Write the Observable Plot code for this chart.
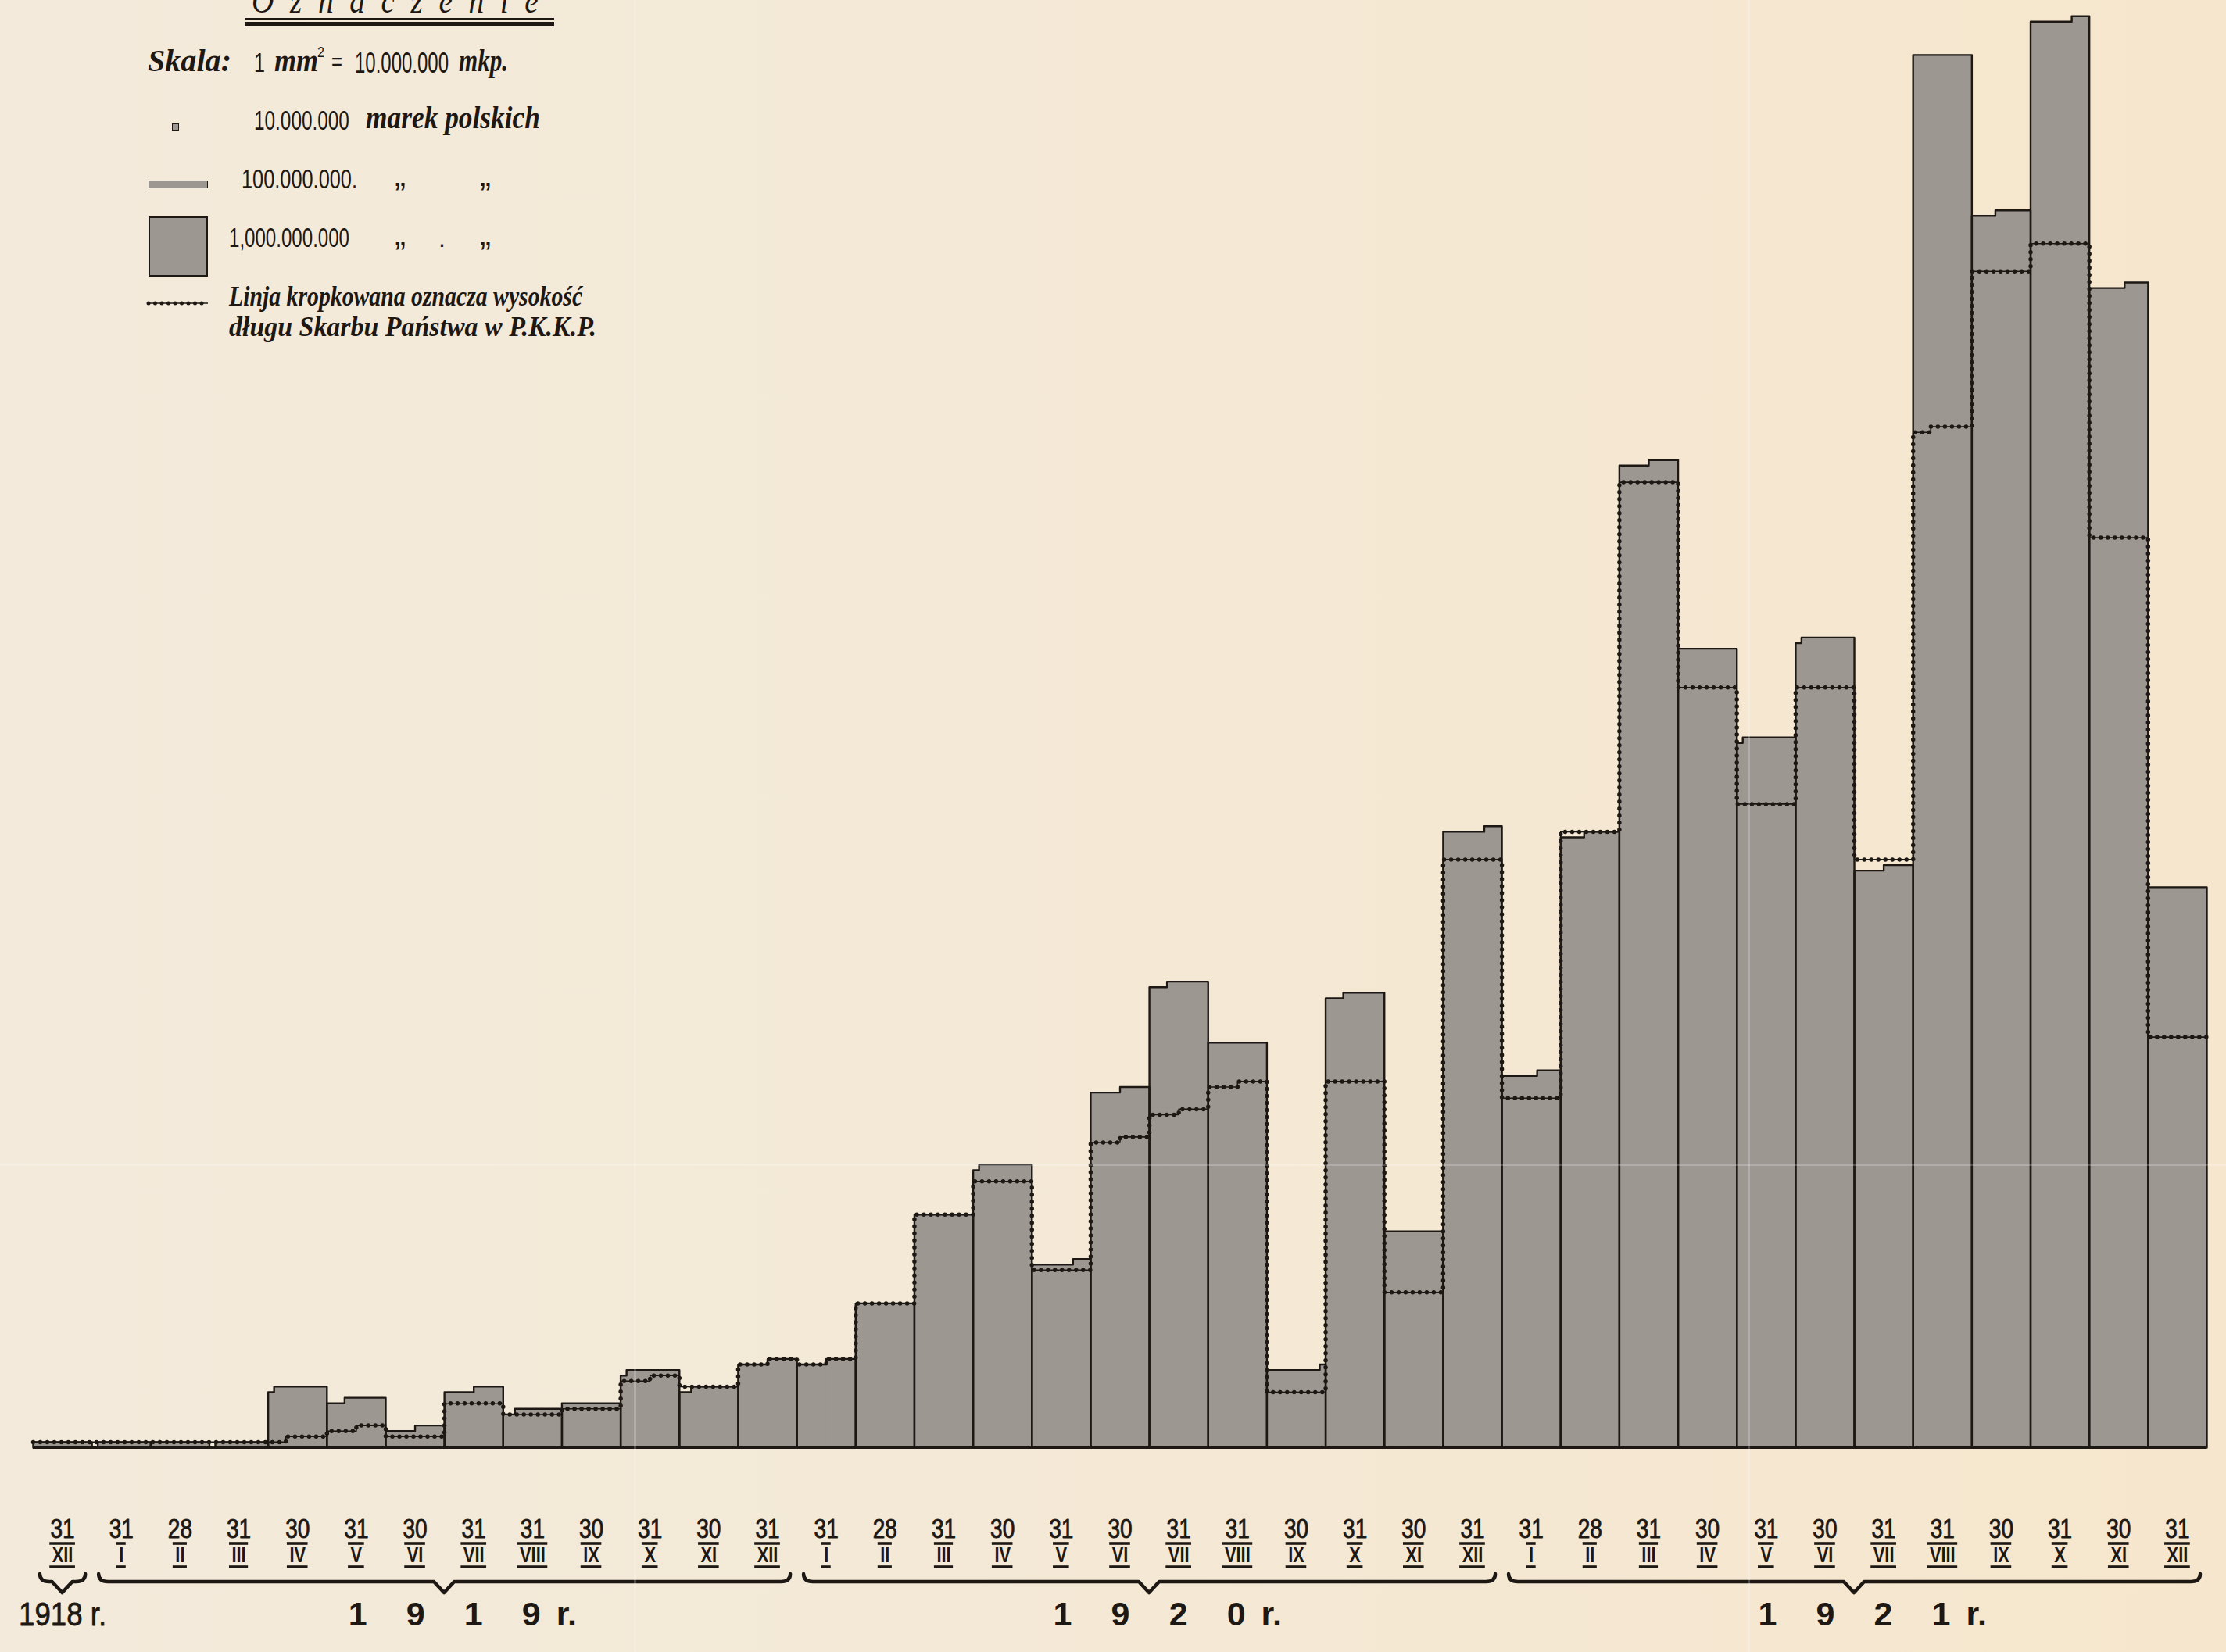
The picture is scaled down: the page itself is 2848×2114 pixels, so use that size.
<!DOCTYPE html>
<html>
<head>
<meta charset="utf-8">
<script src="https://cdn.jsdelivr.net/npm/d3@7"></script>
<script src="https://cdn.jsdelivr.net/npm/@observablehq/plot@0.6"></script>
<style>
  html, body { margin: 0; padding: 0; }
  body { width: 2848px; height: 2114px; overflow: hidden; background: #f2e8d6; }
  #wrap { position: relative; width: 2848px; height: 2114px;
          background: linear-gradient(90deg, #f3eadb 0%, #f4e9d6 45%, #f6e6cd 100%); }
  #chart svg { display: block; }
  #legend { position: absolute; left: 0; top: 0; width: 820px; height: 470px; }
  .s { position: absolute; white-space: nowrap; line-height: 1; color: #1d1813; }
  .scr { font-family: "Liberation Serif", "DejaVu Serif", serif; font-style: italic; font-weight: 700; }
  .nar { font-family: "Liberation Sans", "DejaVu Sans", sans-serif; }
  .box { position: absolute; background: #9d9792; border: 2px solid #1d1813; box-sizing: border-box; }
  .bar { position: absolute; background: #1d1813; }
  .fold { position: absolute; pointer-events: none; background: rgba(255,255,255,0.22); }
</style>
</head>
<body>
<div id="wrap">
  <div id="chart"></div>
  <div id="legend"></div>
  <div class="fold" style="left:0;top:1489px;width:2848px;height:3px;"></div>
  <div class="fold" style="left:811px;top:0;width:3px;height:2114px;"></div>
  <div class="fold" style="left:2236px;top:0;width:3px;height:2114px;"></div>
</div>
<script>
// ---------------- data (values in millions of Polish marks) ----------------
const days = [
  "31",
  "31","28","31","30","31","30","31","31","30","31","30","31",
  "31","28","31","30","31","30","31","31","30","31","30","31",
  "31","28","31","30","31","30","31","31","30","31","30","31"
];
const months = [
  "XII",
  "I","II","III","IV","V","VI","VII","VIII","IX","X","XI","XII",
  "I","II","III","IV","V","VI","VII","VIII","IX","X","XI","XII",
  "I","II","III","IV","V","VI","VII","VIII","IX","X","XI","XII"
];
// grey bars (mln mkp)
const barValues = [
  100,
  90, 100, 90, 1090, 870, 350, 1050, 680, 800, 1390, 1080, 1550,
  1550, 2600, 4200, 5090, 3330, 6450, 8370, 7300, 1410, 8170, 3900, 11130,
  6740, 11060, 17750, 14400, 12790, 14590, 10450, 25100, 22260, 25730, 20940, 10100
];
// dotted line: debt of the State Treasury in P.K.K.P. (mln mkp)
const debtValues = [
  100,
  100, 100, 100, 170, 350, 200, 800, 600, 700, 1250, 1100, 1550,
  1550, 2600, 4200, 4800, 3200, 5550, 6050, 6550, 1000, 6600, 2800, 10600,
  6300, 11100, 17400, 13700, 11600, 13700, 10600, 18370, 21200, 21700, 16400, 7400
];
const yearLabels = ["1918", "1919", "1920", "1921"];
const yearSuffix = "r.";
const yearFirst = [0, 1, 13, 25];
const yearLast  = [0, 12, 24, 36];
const ROW = 100; // 1 mm strip across a bar = 100 000 000 mkp (1 mm² = 10 000 000 mkp)

// ---------------- build unit-filled bar shapes ----------------
function decompose(v) {
  const k = Math.floor(v / ROW + 1e-9);
  const f = Math.round((v - k * ROW) / ROW * 100) / 100;
  return {lo: k * ROW, hi: (k + 1) * ROW, f};
}
const mainRects = [], partRects = [], outline = [], debtPath = [];
barValues.forEach((v, i) => {
  const d = decompose(v);
  mainRects.push({x1: i, x2: i + 1, y: d.lo});
  if (d.f > 0) partRects.push({x1: i + 1 - d.f, x2: i + 1, y: d.hi});
  outline.push({i, x: i, y: 0}, {i, x: i, y: d.lo});
  if (d.f > 0) outline.push({i, x: i + 1 - d.f, y: d.lo}, {i, x: i + 1 - d.f, y: d.hi}, {i, x: i + 1, y: d.hi});
  else outline.push({i, x: i + 1, y: d.lo});
  outline.push({i, x: i + 1, y: 0});
});
debtValues.forEach((v, i) => {
  const d = decompose(v);
  debtPath.push({x: i, y: d.lo});
  if (d.f > 0) debtPath.push({x: i + 1 - d.f, y: d.lo}, {x: i + 1 - d.f, y: d.hi}, {x: i + 1, y: d.hi});
  else debtPath.push({x: i + 1, y: d.lo});
});

const INK = "#1d1813";
const GREY = "#9d9792";
const SANS = '"Liberation Sans", "DejaVu Sans", sans-serif';
const idx = d3.range(barValues.length);
const groupCenter = j => (yearFirst[j] + yearLast[j] + 1) / 2;

const chart = Plot.plot({
  width: 2848,
  height: 2114,
  marginLeft: 42,
  marginRight: 25,
  marginTop: 6,
  marginBottom: 262,
  style: {background: "transparent", overflow: "visible"},
  x: {domain: [0, 37], axis: null},
  y: {domain: [0, 26000], axis: null},
  marks: [
    Plot.rectY(mainRects, {x1: "x1", x2: "x2", y: "y", fill: GREY}),
    Plot.rectY(partRects, {x1: "x1", x2: "x2", y: "y", fill: GREY}),
    Plot.line(outline, {x: "x", y: "y", z: "i", stroke: INK, strokeWidth: 2.4, curve: "linear"}),
    Plot.line(debtPath, {x: "x", y: "y", stroke: INK, strokeWidth: 1.6, curve: "linear"}),
    Plot.line(debtPath, {x: "x", y: "y", stroke: INK, strokeWidth: 5.5, strokeDasharray: "0 9", strokeLinecap: "round", curve: "linear"}),
    Plot.ruleY([0], {stroke: INK, strokeWidth: 3}),
    Plot.text(idx, {x: i => i + 0.5, text: i => days[i], frameAnchor: "bottom", lineAnchor: "middle", dy: 104,
      fontSize: 35, fontFamily: SANS, fill: INK, stroke: INK, strokeWidth: 0.9, ariaDescription: "days"}),
    Plot.text(idx, {x: i => i + 0.5, text: i => months[i], frameAnchor: "bottom", lineAnchor: "middle", dy: 138,
      fontSize: 28, fontWeight: "bold", fontFamily: SANS, fill: INK, ariaDescription: "roman"}),
    Plot.text([0], {x: groupCenter, text: j => yearLabels[j] + " " + yearSuffix, frameAnchor: "bottom", lineAnchor: "middle", dy: 214,
      fontSize: 43, fontFamily: SANS, fill: INK, stroke: INK, strokeWidth: 0.8, ariaDescription: "year1918"}),
    Plot.text([1, 2, 3], {x: groupCenter, text: j => yearLabels[j], frameAnchor: "bottom", lineAnchor: "middle", dy: 214,
      fontSize: 43, fontWeight: "bold", fontFamily: SANS, fill: INK, ariaDescription: "years"}),
    Plot.text([1, 2, 3], {x: groupCenter, text: () => yearSuffix, frameAnchor: "bottom", lineAnchor: "middle", dy: 214, dx: 143,
      textAnchor: "start", fontSize: 43, fontWeight: "bold", fontFamily: SANS, fill: INK})
  ]
});
document.getElementById("chart").append(chart);

// ---------------- decorations using the plot's own scales ----------------
const sx = chart.scale("x"), sy = chart.scale("y");
const X = d3.scaleLinear(sx.domain, sx.range);
const Y = d3.scaleLinear(sy.domain, sy.range);
const base = Y(0);
const svg = d3.select(chart);
function fit(sel, fn, adjust) {
  sel.each(function() {
    const w = this.getComputedTextLength();
    this.setAttribute("textLength", fn(w).toFixed(1));
    this.setAttribute("lengthAdjust", adjust);
  });
}
fit(svg.selectAll('g[aria-description="days"] text'), w => w * 0.8, "spacingAndGlyphs");
fit(svg.selectAll('g[aria-description="roman"] text'), w => w * 0.78, "spacingAndGlyphs");
fit(svg.selectAll('g[aria-description="year1918"] text'), () => 112, "spacingAndGlyphs");
fit(svg.selectAll('g[aria-description="years"] text'), () => 246, "spacing");

const deco = svg.append("g").attr("fill", "none").attr("stroke", INK);
svg.selectAll('g[aria-description="roman"] text').each(function(d, k) {
  const w = +this.getAttribute("textLength");
  const cx = X(k + 0.5);
  [base + 123, base + 153].forEach(yy => {
    deco.append("line").attr("x1", cx - w / 2 - 3).attr("x2", cx + w / 2 + 3)
      .attr("y1", yy).attr("y2", yy).attr("stroke-width", 3.6);
  });
});
yearFirst.forEach((a, j) => {
  const b = yearLast[j] + 1;
  const xs = X(a) + 9, xe = X(b) - 8, xm = X((a + b) / 2);
  const y0 = base + 162, yl = base + 172, yv = base + 186;
  deco.append("path")
    .attr("d", `M${xs},${y0} Q${xs},${yl} ${xs + 12},${yl} L${xm - 13},${yl} L${xm},${yv} L${xm + 13},${yl} L${xe - 12},${yl} Q${xe},${yl} ${xe},${y0}`)
    .attr("stroke-width", 4.5).attr("stroke-linejoin", "round").attr("stroke-linecap", "round");
});

// ---------------- legend ("Oznaczenie") ----------------
const L = document.getElementById("legend");
function put(text, cls, left, baseline, size, target, extra = "") {
  const el = document.createElement("div");
  el.className = "s " + cls;
  el.textContent = text;
  el.style.cssText += `left:${left}px;top:${baseline - 0.845 * size}px;font-size:${size}px;${extra}`;
  L.append(el);
  if (target) {
    const w = el.getBoundingClientRect().width;
    el.style.transformOrigin = "0 0";
    el.style.transform = `scaleX(${(target / w).toFixed(3)})`;
  }
}
function box(cls, left, top, w, h, extra = "") {
  const el = document.createElement("div");
  el.className = cls;
  el.style.cssText += `left:${left}px;top:${top}px;width:${w}px;height:${h}px;${extra}`;
  L.append(el);
}
put("O z n a c z e n i e", "scr", 322, 17, 44, 372, "letter-spacing:6px;font-weight:400;");
box("bar", 313, 23, 396, 2);
box("bar", 313, 28, 396, 5);
put("Skala:", "scr", 189, 92, 40, 107);
put("1", "nar", 325, 92, 35, 14);
put("mm", "scr", 351, 92, 40, 56);
put("2", "nar", 406, 73, 19, 9);
put("=", "nar", 424, 89, 30, 14);
put("10.000.000", "nar", 454, 93, 36, 120);
put("mkp.", "scr", 587, 92, 40, 63);
box("box", 220, 158, 9, 9, "border-width:1.5px;");
put("10.000.000", "nar", 325, 166, 35, 122);
put("marek polskich", "scr", 468, 165, 40, 223);
box("box", 190, 231, 76, 10, "border-width:1.5px;");
put("100.000.000.", "nar", 309, 241, 35, 148);
put("„", "nar", 505, 238, 42);
put("„", "nar", 614, 238, 42);
box("box", 190, 277, 76, 77);
put("1,000.000.000", "nar", 293, 316, 35, 154);
put("„", "nar", 505, 314, 42);
put(".", "nar", 561, 316, 32);
put("„", "nar", 614, 314, 42);
(function() {
  const ns = "http://www.w3.org/2000/svg";
  const s = document.createElementNS(ns, "svg");
  s.setAttribute("width", 84); s.setAttribute("height", 14);
  s.style.cssText = "position:absolute;left:186px;top:381px;";
  const l1 = document.createElementNS(ns, "line");
  l1.setAttribute("x1", 4); l1.setAttribute("x2", 80); l1.setAttribute("y1", 7); l1.setAttribute("y2", 7);
  l1.setAttribute("stroke", INK); l1.setAttribute("stroke-width", 1.5);
  const l2 = l1.cloneNode();
  l2.setAttribute("stroke-width", 5); l2.setAttribute("stroke-dasharray", "0 8.5"); l2.setAttribute("stroke-linecap", "round");
  s.append(l1, l2);
  L.append(s);
})();
put("Linja kropkowana oznacza wysokość", "scr", 293, 392, 35, 452);
put("długu Skarbu Państwa w P.K.K.P.", "scr", 293, 431, 35, 470);
</script>
</body>
</html>
